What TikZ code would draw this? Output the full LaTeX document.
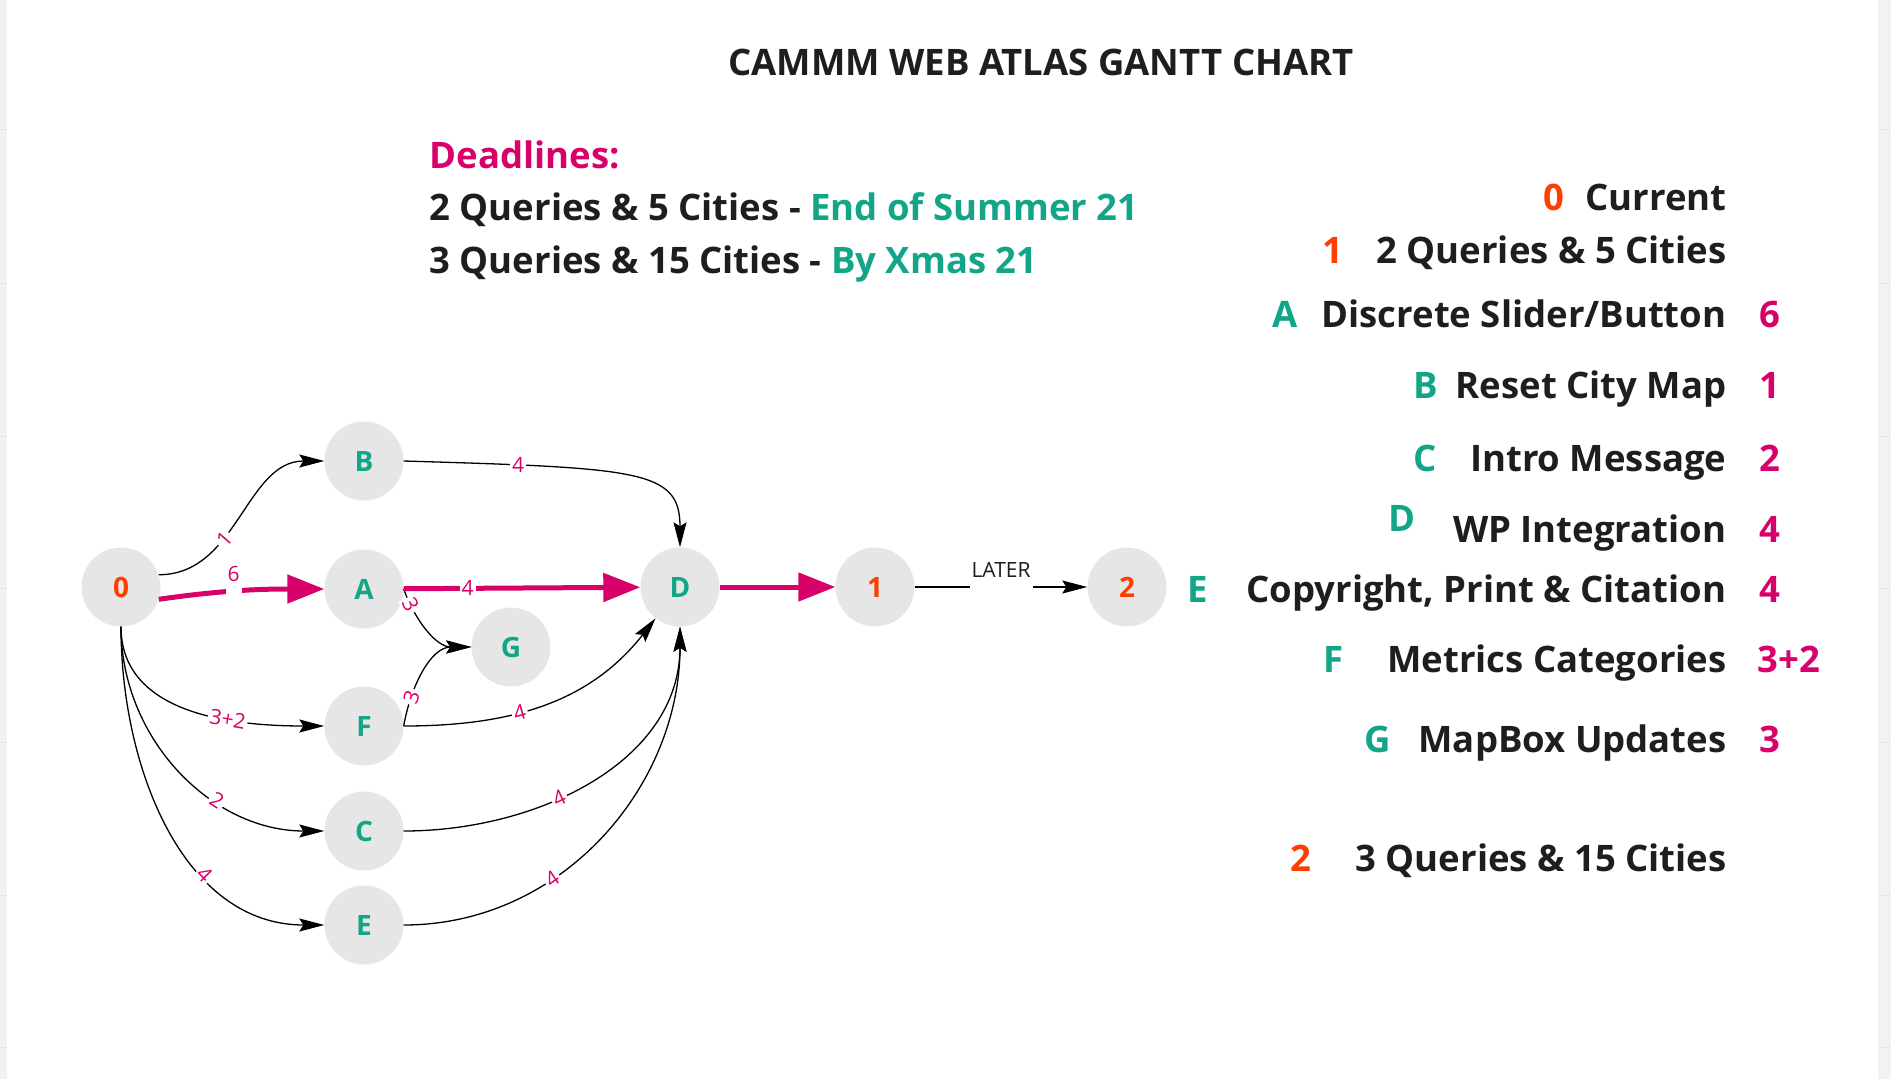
\documentclass[tikz,border=0pt]{standalone}
\usepackage{fontspec}
\setmainfont{Open Sans}
\usetikzlibrary{arrows.meta}

\definecolor{cteal}{RGB}{19,165,136}
\definecolor{cpink}{RGB}{216,0,105}
\definecolor{corange}{RGB}{255,61,0}
\definecolor{cink}{RGB}{30,30,30}
\definecolor{cnode}{RGB}{230,230,230}
\definecolor{cpanel}{RGB}{242,242,242}
\definecolor{cgrid}{RGB}{230,230,230}

\tikzset{
    vert/.style = { circle, fill = cnode, minimum size = 79pt, inner sep = 0pt, font = \bfseries\fontsize{28}{30}\selectfont },
    task/.style = { vert, text = cteal },
    stage/.style = { vert, text = corange },
    dep/.style = { line width = 1.3pt, -{Stealth[length=25pt,width=13pt,inset=4pt]} },
    crit/.style = { line width = 5pt, cpink, -{Triangle[length=37pt,width=28pt]} },
    lbl/.style = { fill = white, inner sep = 2pt, text = cpink, font = \fontsize{21}{23}\selectfont },
    lblup/.style = { lbl, text height = 15pt, text depth = 35pt },
    legname/.style = { anchor = base east, text = cink, font = \bfseries\fontsize{36.5}{40}\selectfont },
    legkey/.style = { anchor = base west, font = \bfseries\fontsize{36.5}{40}\selectfont },
    deadline/.style = { anchor = base west, text = cink, font = \bfseries\fontsize{36.5}{40}\selectfont }
}

\begin{document}
\begin{tikzpicture}[x=1pt, y=-1pt]
    \useasboundingbox ( 0, 0 ) rectangle ( 1891, 1079 );

    % поля по краям
    \fill [cpanel] ( 0, 0 ) rectangle ( 7, 1079 );
    \fill [cpanel] ( 1878, 0 ) rectangle ( 1891, 1079 );
    \foreach \y in { 129, 283, 436, 588, 742, 895, 1047 } {
        \draw [cgrid] ( 0, \y ) -- ( 7, \y );
        \draw [cgrid] ( 1878, \y ) -- ( 1891, \y );
    }

    % заголовок
    \node [ anchor = base, text = cink, font = \bfseries\fontsize{36.5}{40}\selectfont ] (title) at ( 1041, 75 ) {CAMMM WEB ATLAS GANTT CHART};

    % сроки
    \node [ deadline, text = cpink ] (dl) at ( 426, 168 ) {Deadlines:};
    \node [ deadline ] (dlA) at ( 426, 220 ) {2 Queries \& 5 Cities - \textcolor{cteal}{End of Summer 21}};
    \node [ deadline ] (dlB) at ( 426, 273 ) {3 Queries \& 15 Cities - \textcolor{cteal}{By Xmas 21}};

    % узлы
    \node [ stage ] (n0) at ( 121, 587 ) {0};
    \node [ task ] (B) at ( 364, 461 ) {B};
    \node [ task ] (A) at ( 364, 589 ) {A};
    \node [ task ] (D) at ( 680, 587 ) {D};
    \node [ task ] (G) at ( 511, 647 ) {G};
    \node [ task ] (F) at ( 364, 726 ) {F};
    \node [ task ] (C) at ( 364, 831 ) {C};
    \node [ task ] (E) at ( 364, 925 ) {E};
    \node [ stage ] (n1) at ( 875, 587 ) {1};
    \node [ stage ] (n2) at ( 1127, 587 ) {2};

    % зависимости
    \draw [dep] (n0.18) to [ out = 0, in = 180 ] node [ lbl, sloped, pos = 0.37 ] {1} (B.west);
    \draw [dep] (B.east) .. controls ( 640, 468 ) and ( 680, 470 ) .. node [ lbl, pos = 0.19 ] {4} (D.north);
    \draw [dep] (A.east) to [ out = -70, in = 180 ] node [ lbl, sloped, pos = 0.17 ] {3} (G.west);
    \draw [dep] (F.east) to [ out = 80, in = 180 ] node [ lbl, sloped, pos = 0.25 ] {3} (G.west);
    \draw [dep] (F.east) to [ out = 0, in = -128 ] node [ lbl, sloped, pos = 0.4 ] {4} (D.-128);
    \draw [dep] (n0.south) to [ out = -90, in = 180 ] node [ lbl, sloped, pos = 0.65 ] {3+2} (F.west);
    \draw [dep] (n0.south) to [ out = -90, in = 180 ] node [ lbl, sloped, pos = 0.65 ] {2} (C.west);
    \draw [dep] (n0.south) to [ out = -90, in = 180 ] node [ lbl, sloped, pos = 0.65 ] {4} (E.west);
    \draw [dep] (C.east) to [ out = 0, in = -90 ] node [ lbl, sloped, pos = 0.4 ] {4} (D.south);
    \draw [dep] (E.east) to [ out = 0, in = -90 ] node [ lbl, sloped, pos = 0.35 ] {4} (D.south);
    \draw [dep] (n1) -- node [ lblup, text = cink ] {LATER} (n2);

    % критический путь
    \draw [crit] (n0.-18) to [ out = 8, in = 180 ] node [ lblup, pos = 0.45 ] {6} (A.west);
    \draw [crit] (A) -- node [ lbl, pos = 0.27 ] {4} (D);
    \draw [crit] (D) -- (n1);

    % легенда
    \node [ legkey, text = corange ] (k0) at ( 1540, 210 ) {0};
    \node [ legname ] (l0) at ( 1730, 210 ) {Current};
    \node [ legkey, text = corange ] (k1) at ( 1319, 263 ) {1};
    \node [ legname ] (l1) at ( 1730, 263 ) {2 Queries \& 5 Cities};
    \node [ legkey, text = cteal ] (kA) at ( 1269, 327 ) {A};
    \node [ legname ] (lA) at ( 1730, 327 ) {Discrete Slider/Button};
    \node [ legkey, text = cpink ] (tA) at ( 1756, 327 ) {6};
    \node [ legkey, text = cteal ] (kB) at ( 1410, 398 ) {B};
    \node [ legname ] (lB) at ( 1730, 398 ) {Reset City Map};
    \node [ legkey, text = cpink ] (tB) at ( 1756, 398 ) {1};
    \node [ legkey, text = cteal ] (kC) at ( 1410, 471 ) {C};
    \node [ legname ] (lC) at ( 1730, 471 ) {Intro Message};
    \node [ legkey, text = cpink ] (tC) at ( 1756, 471 ) {2};
    \node [ legkey, text = cteal ] (kD) at ( 1385, 531 ) {D};
    \node [ legname ] (lD) at ( 1730, 542 ) {WP Integration};
    \node [ legkey, text = cpink ] (tD) at ( 1756, 542 ) {4};
    \node [ legkey, text = cteal ] (kE) at ( 1184, 602 ) {E};
    \node [ legname ] (lE) at ( 1730, 602 ) {Copyright, Print \& Citation};
    \node [ legkey, text = cpink ] (tE) at ( 1756, 602 ) {4};
    \node [ legkey, text = cteal ] (kF) at ( 1320, 672 ) {F};
    \node [ legname ] (lF) at ( 1730, 672 ) {Metrics Categories};
    \node [ legkey, text = cpink ] (tF) at ( 1754, 672 ) {3+2};
    \node [ legkey, text = cteal ] (kG) at ( 1361, 752 ) {G};
    \node [ legname ] (lG) at ( 1730, 752 ) {MapBox Updates};
    \node [ legkey, text = cpink ] (tG) at ( 1756, 752 ) {3};
    \node [ legkey, text = corange ] (k2) at ( 1287, 871 ) {2};
    \node [ legname ] (l2) at ( 1730, 871 ) {3 Queries \& 15 Cities};
\end{tikzpicture}
\end{document}
